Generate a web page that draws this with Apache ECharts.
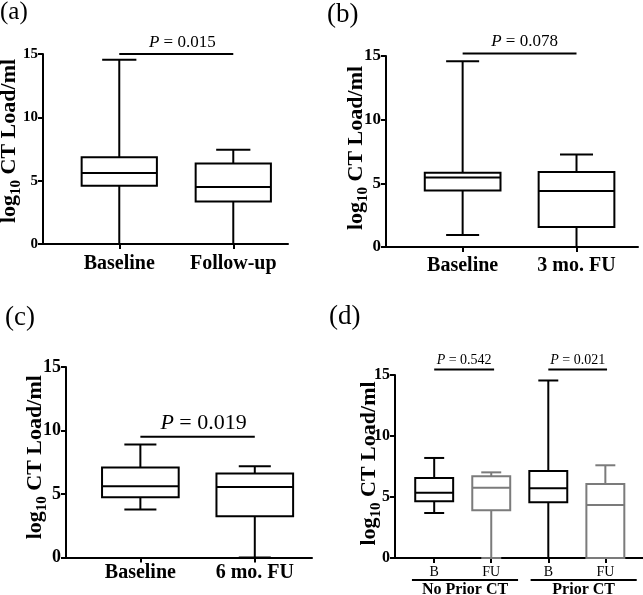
<!DOCTYPE html>
<html><head><meta charset="utf-8">
<script src="https://cdn.jsdelivr.net/npm/echarts@6/dist/echarts.min.js"></script>
<style>html,body{margin:0;padding:0;background:#fff}#c{width:643px;height:595px}</style>
</head><body><div id="c"></div>
<script>
// ---------------- data ----------------
const yTicks = [0, 5, 10, 15];
const panelLabels = ['(a)', '(b)', '(c)', '(d)'];
const yName = ['log', '10', ' CT Load/ml'];

// box rows: [position, min, Q1, median, Q3, max]
const catsA = ['Baseline', 'Follow-up'];
const boxesA = [
  [0, 0, 4.6, 5.6, 6.85, 14.55],
  [1, 0, 3.35, 4.5, 6.35, 7.45]
];
const pA = [[0, 1, 15, '0.015']];

const catsB = ['Baseline', '3 mo. FU'];
const boxesB = [
  [0, 0.94, 4.43, 5.45, 5.84, 14.59],
  [1, 0, 1.57, 4.4, 5.89, 7.26]
];
const pB = [[0, 1, 15.2, '0.078']];

const catsC = ['Baseline', '6 mo. FU'];
const boxesC = [
  [0, 3.78, 4.74, 5.61, 7.08, 8.89],
  [1, 0, 3.25, 5.56, 6.61, 7.18]
];
const pC = [[0, 1, 9.5, '0.019']];

const catsD = ['B', 'FU', 'B', 'FU'];
const boxesD_B = [
  [0, 3.69, 4.65, 5.35, 6.56, 8.2],
  [2, 0, 4.57, 5.71, 7.13, 14.55]
];
const boxesD_FU = [
  [1, 0, 3.91, 5.76, 6.7, 7.02],
  [3, 0, 0, 4.34, 6.07, 7.6]
];
const pD = [[0, 1.05, 15.45, '0.542'], [2, 3.03, 15.45, '0.021']];
const groupsD = [[-0.39, 1.47, 'No Prior CT'], [1.69, 3.55, 'Prior CT']];

// ---------------- styling ----------------
const FONT = '"Liberation Serif", "Times New Roman", serif';
const BLACK = '#000';
const GRAY = '#7b7b7b';

function boxRenderer(boxW, capW, lw) {
  return function (params, api) {
    const x = api.value(0);
    const v = [1, 2, 3, 4, 5].map(i => api.value(i));
    const color = api.visual('color');
    const c = (dx, y) => api.coord([x + dx, y]);
    const cx = c(0, 0)[0];
    const yMin = c(0, v[0])[1], yQ1 = c(0, v[1])[1], yMed = c(0, v[2])[1],
          yQ3 = c(0, v[3])[1], yMax = c(0, v[4])[1];
    const xl = c(-boxW / 2, 0)[0], xr = c(boxW / 2, 0)[0];
    const cl = c(-capW / 2, 0)[0], cr = c(capW / 2, 0)[0];
    const st = { stroke: color, lineWidth: lw, fill: 'none' };
    return {
      type: 'group', children: [
        { type: 'line', shape: { x1: cx, y1: yMax, x2: cx, y2: yQ3 }, style: st },
        { type: 'line', shape: { x1: cx, y1: yQ1, x2: cx, y2: yMin }, style: st },
        { type: 'line', shape: { x1: cl, y1: yMax, x2: cr, y2: yMax }, style: st },
        { type: 'line', shape: { x1: cl, y1: yMin, x2: cr, y2: yMin }, style: st },
        { type: 'rect', shape: { x: xl, y: yQ3, width: xr - xl, height: yQ1 - yQ3 }, style: st },
        { type: 'line', shape: { x1: xl, y1: yMed, x2: xr, y2: yMed }, style: st }
      ]
    };
  };
}

function bracketRenderer(rows, fontSize, dx, gap) {
  return function (params, api) {
    const r = rows[params.dataIndex];
    const p0 = api.coord([r[0], r[2]]);
    const p1 = api.coord([r[1], r[2]]);
    return {
      type: 'group', children: [
        { type: 'line', shape: { x1: p0[0], y1: p0[1], x2: p1[0], y2: p1[1] }, style: { stroke: BLACK, lineWidth: 2 } },
        { type: 'text', x: (p0[0] + p1[0]) / 2 + dx, y: p0[1] - gap,
          style: { text: '{i|P} = ' + r[3], fill: BLACK, fontFamily: FONT, fontSize: fontSize,
                   align: 'center', verticalAlign: 'bottom',
                   rich: { i: { fontStyle: 'italic', fontFamily: FONT, fontSize: fontSize, fill: BLACK } } } }
      ]
    };
  };
}

function groupRenderer(rows) {
  return function (params, api) {
    const g = rows[params.dataIndex];
    const a = api.coord([g[0], 0]), b = api.coord([g[1], 0]);
    return {
      type: 'group', children: [
        { type: 'line', shape: { x1: a[0], y1: a[1] + 22, x2: b[0], y2: b[1] + 22 }, style: { stroke: BLACK, lineWidth: 2 } },
        { type: 'text', x: (a[0] + b[0]) / 2, y: a[1] + 31.5,
          style: { text: g[2], fill: BLACK, fontFamily: FONT, fontSize: 16, fontWeight: 'bold', align: 'center', verticalAlign: 'middle' } }
      ]
    };
  };
}

const panels = [
  { grid: { left: 43, top: 54, width: 245, height: 190 }, xMin: -0.669, xMax: 1.48, cats: catsA,
    tickFs: 15, xFs: 20, xMargin: 10, nameGap: 19, nameShift: 8, pFs: 17, pDx: 6, pGap: 3, title: [0, 0, 25] },
  { grid: { left: 386, top: 56, width: 252, height: 191 }, xMin: -0.673, xMax: 1.54, cats: catsB,
    tickFs: 17, xFs: 20, xMargin: 9, nameGap: 15, nameShift: 3.5, pFs: 17, pDx: 5, pGap: 3, title: [327, 1, 27] },
  { grid: { left: 66, top: 367, width: 246, height: 190.5 }, xMin: -0.65, xMax: 1.5, cats: catsC,
    tickFs: 18, xFs: 20, xMargin: 5, nameGap: 16, nameShift: 5, pFs: 22, pDx: 6, pGap: 3, title: [5, 304, 27] },
  { grid: { left: 395, top: 375, width: 248, height: 183 }, xMin: -0.687, xMax: 3.66, cats: catsD,
    tickFs: 16, xFs: 14, xMargin: 7, xBold: false, nameGap: 11, nameShift: 3, pFs: 14, pDx: 0, pGap: 2, title: [329, 303, 27] }
];

const option = {
  animation: false,
  backgroundColor: '#fff',
  title: panels.map((p, i) => ({
    text: panelLabels[i], left: p.title[0], top: p.title[1], padding: 0,
    textStyle: { fontFamily: FONT, fontWeight: 'normal', fontSize: p.title[2], color: BLACK }
  })),
  grid: panels.map(p => Object.assign({ containLabel: false, outerBoundsMode: 'none' }, p.grid)),
  xAxis: panels.map((p, i) => ({
    type: 'value', gridIndex: i, min: p.xMin, max: p.xMax,
    splitLine: { show: false },
    axisLine: { show: true, onZero: false, lineStyle: { color: BLACK, width: 2 } },
    axisTick: { show: true, length: 5, lineStyle: { color: BLACK, width: 2 }, customValues: p.cats.map((c, k) => k) },
    axisLabel: { show: true, customValues: p.cats.map((c, k) => k), formatter: v => p.cats[Math.round(v)],
                 fontFamily: FONT, fontWeight: p.xBold === false ? 'normal' : 'bold', fontSize: p.xFs, color: BLACK, margin: p.xMargin }
  })),
  yAxis: panels.map((p, i) => ({
    type: 'value', gridIndex: i, min: yTicks[0], max: yTicks[yTicks.length - 1], interval: yTicks[1] - yTicks[0],
    splitLine: { show: false },
    axisLine: { show: true, onZero: false, lineStyle: { color: BLACK, width: 2 } },
    axisTick: { show: true, length: 5, lineStyle: { color: BLACK, width: 2 } },
    axisLabel: { fontFamily: FONT, fontWeight: 'bold', fontSize: p.tickFs, color: BLACK, margin: 5 },
    name: '{m|' + yName[0] + '}{s|' + yName[1] + '}{m|' + yName[2] + '}',
    nameLocation: 'middle', nameRotate: 90, nameGap: p.nameGap, nameMoveOverlap: false,
    nameTextStyle: {
      padding: [0, 0, 0, p.nameShift * 2],
      rich: {
        m: { fontFamily: FONT, fontWeight: 'bold', fontSize: 22, color: BLACK },
        s: { fontFamily: FONT, fontWeight: 'bold', fontSize: 15, color: BLACK, padding: [15, 0, 0, 0], verticalAlign: 'bottom' }
      }
    }
  })),
  series: []
};

const boxSets = [
  [boxesA, BLACK, 0, 0.66, 0.3],
  [boxesB, BLACK, 1, 0.665, 0.29],
  [boxesC, BLACK, 2, 0.67, 0.28],
  [boxesD_B, BLACK, 3, 0.665, 0.35],
  [boxesD_FU, GRAY, 3, 0.665, 0.35]
];
boxSets.forEach(([rows, color, gi, bw, cw]) => {
  option.series.push({
    type: 'custom', xAxisIndex: gi, yAxisIndex: gi, data: rows,
    itemStyle: { color: color },
    renderItem: boxRenderer(bw, cw, 2), clip: false, silent: true
  });
});
[[pA, 0], [pB, 1], [pC, 2], [pD, 3]].forEach(([rows, gi]) => {
  const p = panels[gi];
  option.series.push({
    type: 'custom', xAxisIndex: gi, yAxisIndex: gi, data: rows.map(r => [r[0], r[2]]),
    renderItem: bracketRenderer(rows, p.pFs, p.pDx, p.pGap), clip: false, silent: true
  });
});
option.series.push({
  type: 'custom', xAxisIndex: 3, yAxisIndex: 3, data: groupsD.map(g => [g[0], 0]),
  renderItem: groupRenderer(groupsD), clip: false, silent: true
});

const chart = echarts.init(document.getElementById('c'), null, { renderer: 'canvas' });
chart.setOption(option);
</script></body></html>
